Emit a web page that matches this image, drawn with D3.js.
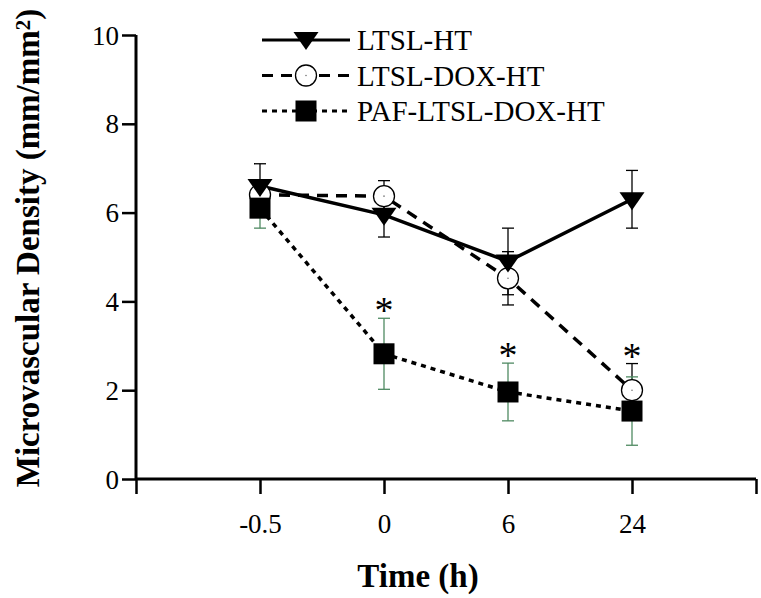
<!DOCTYPE html>
<html lang="en">
  <head>
    <meta charset="UTF-8" />
    <title>Microvascular Density</title>
    <script src="https://d3js.org/d3.v7.min.js"></script>
    <style>
      body {
        margin: 0;
        background: #ffffff;
      }
      svg {
        display: block;
        font-family: "Liberation Serif", "Times New Roman", serif;
      }
    </style>
  </head>
  <body>
    <svg id="chart" width="761" height="598"></svg>
  </body>
  <script>
    // time points (categorical, evenly spaced)
    const timeLabels = ["-0.5", "0", "6", "24"];

    // LTSL-HT
    const ltslHT = [6.6, 5.95, 4.9, 6.3];
    const ltslHTErr = [0.5, 0.5, 0.75, 0.65];

    // LTSL-DOX-HT
    const ltslDoxHT = [6.4, 6.37, 4.52, 2.0];
    const ltslDoxHTErr = [0.3, 0.35, 0.6, 0.6];

    // PAF-LTSL-DOX-HT
    const pafLtslDoxHT = [6.1, 2.82, 1.96, 1.53];
    const pafLtslDoxHTErr = [0.45, 0.8, 0.65, 0.77];

    // significance marks: [series key, time index]
    const stars = [
      ["paf", 1],
      ["paf", 2],
      ["dox", 3],
    ];

    const yTicks = [0, 2, 4, 6, 8, 10];

    const svg = d3.select("#chart");

    const x = d3.scaleLinear().domain([0, 5]).range([136, 756]);
    const y = d3.scaleLinear().domain([0, 10]).range([479, 35]);

    const series = [
      {
        key: "ltsl",
        name: "LTSL-HT",
        values: ltslHT,
        err: ltslHTErr,
        dash: null,
        errColor: "#000",
        marker: "triangle",
      },
      {
        key: "dox",
        name: "LTSL-DOX-HT",
        values: ltslDoxHT,
        err: ltslDoxHTErr,
        dash: "11,8",
        errColor: "#000",
        marker: "circle",
      },
      {
        key: "paf",
        name: "PAF-LTSL-DOX-HT",
        values: pafLtslDoxHT,
        err: pafLtslDoxHTErr,
        dash: "5,5",
        errColor: "#4f8a62",
        marker: "square",
      },
    ];
    const byKey = {};
    series.forEach((s) => (byKey[s.key] = s));

    // axes
    const yAxis = svg
      .append("g")
      .attr("transform", `translate(${x(0)},0)`)
      .call(d3.axisLeft(y).tickValues(yTicks).tickSize(14).tickPadding(3));

    const xAxis = svg
      .append("g")
      .attr("transform", `translate(0,${y(0)})`)
      .call(
        d3
          .axisBottom(x)
          .tickValues([0, 1, 2, 3, 4, 5])
          .tickSize(15)
          .tickPadding(4)
          .tickFormat((d) => (d >= 1 && d <= 4 ? timeLabels[d - 1] : ""))
      );

    [xAxis, yAxis].forEach((g) => {
      g.select(".domain").attr("stroke", "#000").attr("stroke-width", 3);
      g.selectAll(".tick line").attr("stroke", "#000").attr("stroke-width", 2.5);
      g.selectAll(".tick text")
        .attr("fill", "#000")
        .style("font-family", "Liberation Serif, serif")
        .style("font-size", "27px");
    });
    xAxis.select(".domain").attr("d", `M${x(0)},0H${x(5)}`);
    yAxis.select(".domain").attr("d", `M0,${y(0)}V${y(10)}`);
    xAxis.selectAll(".tick text").attr("y", 0).attr("dy", 0).attr("transform", "translate(0,54)");
    yAxis.selectAll(".tick text").attr("dy", "0.34em");

    // axis titles
    svg
      .append("text")
      .attr("x", 418)
      .attr("y", 587)
      .attr("text-anchor", "middle")
      .style("font-size", "33px")
      .style("font-weight", "bold")
      .text("Time (h)");

    const yTitle = svg
      .append("text")
      .attr("transform", "translate(39,248) rotate(-90)")
      .attr("text-anchor", "middle")
      .style("font-size", "33px")
      .style("font-weight", "bold");
    yTitle.append("tspan").text("Microvascular Density (mm/mm");
    yTitle
      .append("tspan")
      .attr("dy", "-0.45em")
      .style("font-size", "21px")
      .text("2");
    yTitle.append("tspan").attr("dy", "0.3em").text(")");

    // lines
    const line = d3
      .line()
      .x((d, i) => x(i + 1))
      .y((d) => y(d));

    series.forEach((s) => {
      svg
        .append("path")
        .datum(s.values)
        .attr("fill", "none")
        .attr("stroke", "#000")
        .attr("stroke-width", 3.5)
        .attr("stroke-dasharray", s.dash)
        .attr("d", line);
    });

    // error bars
    const cap = 6;
    series.forEach((s) => {
      const g = svg.append("g").attr("stroke", s.errColor).attr("stroke-width", 1.3);
      s.values.forEach((v, i) => {
        const cx = x(i + 1);
        const top = y(v + s.err[i]);
        const bot = y(v - s.err[i]);
        g.append("line").attr("x1", cx).attr("x2", cx).attr("y1", top).attr("y2", bot);
        g.append("line").attr("x1", cx - cap).attr("x2", cx + cap).attr("y1", top).attr("y2", top);
        g.append("line").attr("x1", cx - cap).attr("x2", cx + cap).attr("y1", bot).attr("y2", bot);
      });
    });

    // markers
    function drawMarker(g, type, cx, cy) {
      if (type === "triangle") {
        g.append("path")
          .attr("d", `M${cx - 12.5},${cy - 7}L${cx + 12.5},${cy - 7}L${cx},${cy + 11}Z`)
          .attr("fill", "#000");
      } else if (type === "circle") {
        g.append("circle")
          .attr("cx", cx)
          .attr("cy", cy)
          .attr("r", 10.5)
          .attr("fill", "#fff")
          .attr("stroke", "#000")
          .attr("stroke-width", 1.3);
        g.append("circle").attr("cx", cx).attr("cy", cy).attr("r", 0.8).attr("fill", "#777");
      } else {
        g.append("rect")
          .attr("x", cx - 10.5)
          .attr("y", cy - 10.5)
          .attr("width", 21)
          .attr("height", 21)
          .attr("fill", "#000");
      }
    }

    const markerOrder = ["dox", "ltsl", "paf"];
    markerOrder.forEach((k) => {
      const s = byKey[k];
      const g = svg.append("g");
      s.values.forEach((v, i) => drawMarker(g, s.marker, x(i + 1), y(v)));
    });

    // significance asterisks
    stars.forEach(([k, i]) => {
      const s = byKey[k];
      svg
        .append("text")
        .attr("x", x(i + 1))
        .attr("y", y(s.values[i] + s.err[i]) + 5)
        .attr("text-anchor", "middle")
        .style("font-size", "38px")
        .text("*");
    });

    // legend
    const legend = svg.append("g");
    series.forEach((s, i) => {
      const cy = 40 + i * 35.5;
      legend
        .append("line")
        .attr("x1", 262)
        .attr("x2", 350)
        .attr("y1", cy)
        .attr("y2", cy)
        .attr("stroke", "#000")
        .attr("stroke-width", 3)
        .attr("stroke-dasharray", s.dash);
      drawMarker(legend, s.marker, 306, s.marker === "triangle" ? cy - 1 : cy);
      legend
        .append("text")
        .attr("x", 357)
        .attr("y", cy + 10)
        .style("font-size", "29px")
        .text(s.name);
    });
  </script>
</html>
